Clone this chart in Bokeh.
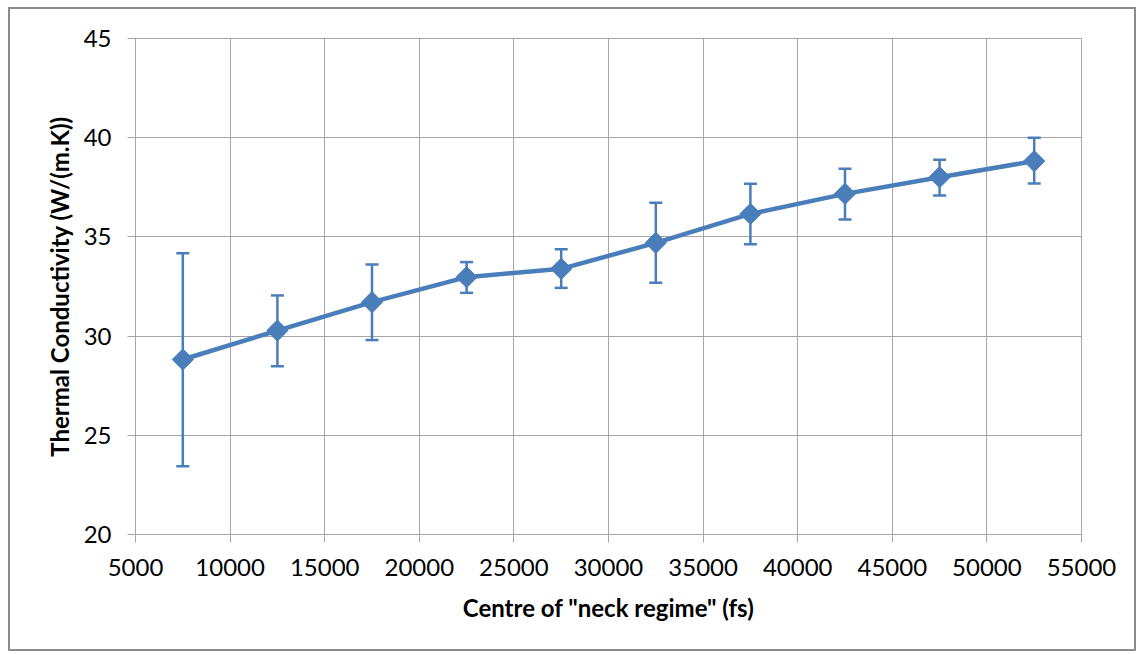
from bokeh.plotting import figure
from bokeh.models import Range1d, SingleIntervalTicker
from bokeh.embed import file_html
from bokeh.resources import INLINE

centre_fs = [7500, 12500, 17500, 22500, 27500, 32500, 37500, 42500, 47500, 52500]
conductivity = [28.82, 30.28, 31.71, 32.97, 33.39, 34.70, 36.16, 37.17, 38.01, 38.82]
err_upper = [34.18, 32.05, 33.61, 33.73, 34.38, 36.72, 37.68, 38.43, 38.89, 40.00]
err_lower = [23.44, 28.48, 29.80, 32.18, 32.43, 32.69, 34.63, 35.88, 37.09, 37.69]

x_title = 'Centre of "neck regime" (fs)'
y_title = "Thermal Conductivity (W/(m.K))"

BLUE = "#4A7EBB"
GRID = "#A6A6A6"
FONT = "Lato"

p = figure(width=1128, height=644, output_backend="svg", toolbar_location=None,
           x_range=Range1d(5000, 55000), y_range=Range1d(20, 45),
           min_border_left=125, min_border_top=29, min_border_right=57, min_border_bottom=119)
p.styles = {"margin-left": "8px", "margin-top": "7px", "border": "2px solid #8C8C8C"}

p.xaxis.ticker = SingleIntervalTicker(interval=5000, num_minor_ticks=0)
p.yaxis.ticker = SingleIntervalTicker(interval=5, num_minor_ticks=0)

for ax in (p.xaxis[0], p.yaxis[0]):
    ax.axis_line_color = GRID
    ax.major_tick_line_color = GRID
    ax.major_tick_out = 8
    ax.major_tick_in = 0
    ax.minor_tick_line_color = None
    ax.major_label_text_font = FONT
    ax.major_label_text_font_size = "24px"
    ax.major_label_text_color = "#000000"
    ax.axis_label_text_font = FONT
    ax.axis_label_text_font_style = "bold"
    ax.axis_label_text_font_size = "24px"
    ax.axis_label_text_color = "#000000"

p.xaxis.axis_label = x_title
p.yaxis.axis_label = y_title
p.xaxis.major_label_standoff = 16
p.yaxis.major_label_standoff = 16
p.xaxis.axis_label_standoff = 14
p.yaxis.axis_label_standoff = 7

p.xgrid.grid_line_color = GRID
p.ygrid.grid_line_color = GRID
p.outline_line_color = GRID
p.background_fill_color = "white"
p.border_fill_color = "white"

# error bars
p.segment(x0=centre_fs, y0=err_lower, x1=centre_fs, y1=err_upper, line_color=BLUE, line_width=2.5)
p.scatter(x=centre_fs, y=err_upper, marker="dash", size=13, line_color=BLUE, line_width=2.5)
p.scatter(x=centre_fs, y=err_lower, marker="dash", size=13, line_color=BLUE, line_width=2.5)

# series
p.line(x=centre_fs, y=conductivity, line_color=BLUE, line_width=4.5)
p.scatter(x=centre_fs, y=conductivity, marker="square", angle=0.785398, size=15,
          fill_color=BLUE, line_color=BLUE)

open("out.html", "w").write(file_html(p, INLINE))
